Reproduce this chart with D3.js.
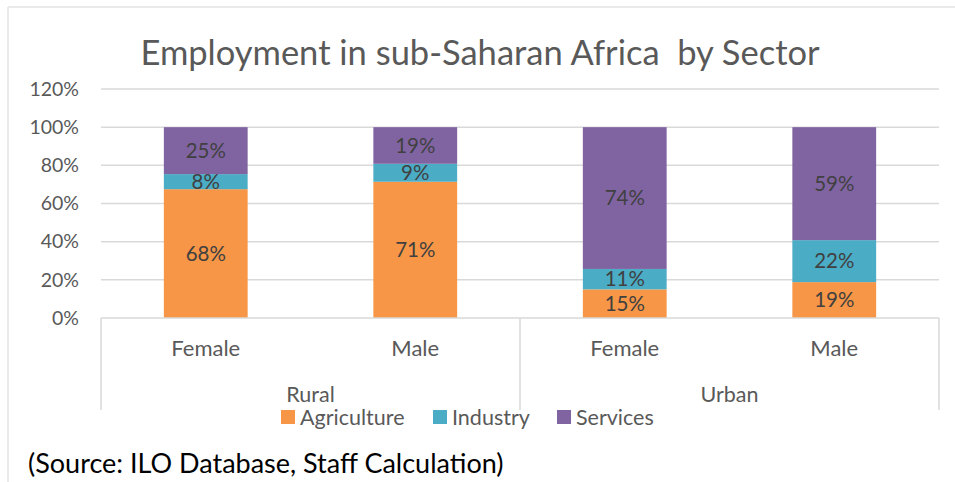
<!DOCTYPE html>
<html>
<head>
<meta charset="utf-8">
<script src="https://cdn.jsdelivr.net/npm/d3@7"></script>
<style>
  body { margin: 0; background: #fff; }
  text { font-family: Lato, "Open Sans", sans-serif; }
</style>
</head>
<body>
<svg id="chart"></svg>
<script>
'use strict';

var width = 955, height = 482;

// data
var groups = ["Rural", "Rural", "Urban", "Urban"];
var genders = ["Female", "Male", "Female", "Male"];
var sectors = ["Agriculture", "Industry", "Services"];
var agriculture = [0.675, 0.714, 0.150, 0.188];
var industry = [0.079, 0.094, 0.107, 0.220];
var services = [0.246, 0.192, 0.743, 0.592];
var yTicks = [0, 0.2, 0.4, 0.6, 0.8, 1.0, 1.2];

var colors = {
    Agriculture: "#f79646",
    Industry: "#4bacc6",
    Services: "#8064a2"
};

var svg = d3.select("#chart")
    .attr("width", width)
    .attr("height", height);

// outer frame (only top and left edges visible)
svg.append("line")
   .attr("x1", 8).attr("x2", width).attr("y1", 7).attr("y2", 7)
   .attr("stroke", "#e3e3e3").attr("stroke-width", 1.5);
svg.append("line")
   .attr("x1", 8).attr("x2", 8).attr("y1", 7).attr("y2", height)
   .attr("stroke", "#e3e3e3").attr("stroke-width", 1.5);

var plot = {left: 101, right: 939, top: 89, bottom: 318};

var keys = d3.range(genders.length);
var x = d3.scaleBand()
          .domain(keys)
          .range([plot.left, plot.right])
          .paddingInner(0.6)
          .paddingOuter(0.3);

var y = d3.scaleLinear()
          .domain([0, 1.2])
          .range([plot.bottom, plot.top]);

// gridlines
svg.append("g")
   .selectAll("line")
   .data(yTicks.slice(1))
   .join("line")
   .attr("x1", plot.left).attr("x2", plot.right)
   .attr("y1", d => y(d)).attr("y2", d => y(d))
   .attr("stroke", "#d9d9d9").attr("stroke-width", 1.5);

// y axis labels
var yAxis = svg.append("g")
   .attr("transform", "translate(" + (plot.left - 12) + ",0)")
   .call(d3.axisLeft(y).tickValues(yTicks).tickFormat(d3.format(".0%")).tickSize(0).tickPadding(10));
yAxis.select(".domain").remove();
yAxis.selectAll("text")
     .attr("font-size", 19.5)
     .attr("fill", "#595959")
     .style("font-family", "Lato, 'Open Sans', sans-serif");

// stacked bars
var rows = keys.map(function(i) {
    return {i: i, Agriculture: agriculture[i], Industry: industry[i], Services: services[i]};
});
var stacked = d3.stack().keys(sectors)(rows);

var layer = svg.append("g")
   .selectAll("g")
   .data(stacked)
   .join("g")
   .attr("fill", d => colors[d.key]);

layer.selectAll("rect")
     .data(d => d)
     .join("rect")
     .attr("x", d => x(d.data.i))
     .attr("width", x.bandwidth())
     .attr("y", d => y(d[1]))
     .attr("height", d => y(d[0]) - y(d[1]));

layer.selectAll("text")
     .data(d => d)
     .join("text")
     .attr("x", d => x(d.data.i) + x.bandwidth() / 2)
     .attr("y", d => (y(d[0]) + y(d[1])) / 2)
     .attr("dy", "0.35em")
     .attr("text-anchor", "middle")
     .attr("font-size", 20.5)
     .attr("fill", "#404040")
     .text(d => d3.format(".0%")(d[1] - d[0]));

// category axis
var axisColor = "#d9d9d9";
svg.append("line")
   .attr("x1", plot.left).attr("x2", plot.right)
   .attr("y1", plot.bottom).attr("y2", plot.bottom)
   .attr("stroke", axisColor).attr("stroke-width", 1.5);

var groupEdges = [plot.left, plot.left + (plot.right - plot.left) / 2, plot.right];
svg.append("g")
   .selectAll("line")
   .data(groupEdges)
   .join("line")
   .attr("x1", d => d).attr("x2", d => d)
   .attr("y1", plot.bottom).attr("y2", 410)
   .attr("stroke", axisColor).attr("stroke-width", 1.5);

svg.append("g")
   .selectAll("text")
   .data(keys)
   .join("text")
   .attr("x", d => x(d) + x.bandwidth() / 2)
   .attr("y", 348)
   .attr("dy", "0.35em")
   .attr("text-anchor", "middle")
   .attr("font-size", 22)
   .attr("fill", "#595959")
   .text(d => genders[d]);

var groupNames = Array.from(new Set(groups));
svg.append("g")
   .selectAll("text")
   .data(groupNames)
   .join("text")
   .attr("x", (d, i) => (groupEdges[i] + groupEdges[i + 1]) / 2)
   .attr("y", 394)
   .attr("dy", "0.35em")
   .attr("text-anchor", "middle")
   .attr("font-size", 21.5)
   .attr("fill", "#595959")
   .text(d => d);

// title
svg.append("text")
   .attr("x", 480)
   .attr("y", 65)
   .attr("text-anchor", "middle")
   .attr("font-size", 34.5)
   .attr("fill", "#595959")
   .style("white-space", "pre")
   .text("Employment in sub-Saharan Africa  by Sector");

// legend
var legendX = [281, 433, 557];
var legend = svg.append("g")
   .selectAll("g")
   .data(sectors)
   .join("g")
   .attr("transform", (d, i) => "translate(" + legendX[i] + ",417)");
legend.append("rect")
      .attr("x", 0).attr("y", -7)
      .attr("width", 14).attr("height", 14)
      .attr("fill", d => colors[d]);
legend.append("text")
      .attr("x", 19)
      .attr("dy", "0.35em")
      .attr("font-size", 21.5)
      .attr("fill", "#595959")
      .text(d => d);

// source note
svg.append("text")
   .attr("x", 28)
   .attr("y", 473)
   .attr("font-size", 27)
   .attr("fill", "#000")
   .text("(Source: ILO Database, Staff Calculation)");
</script>
</body>
</html>
